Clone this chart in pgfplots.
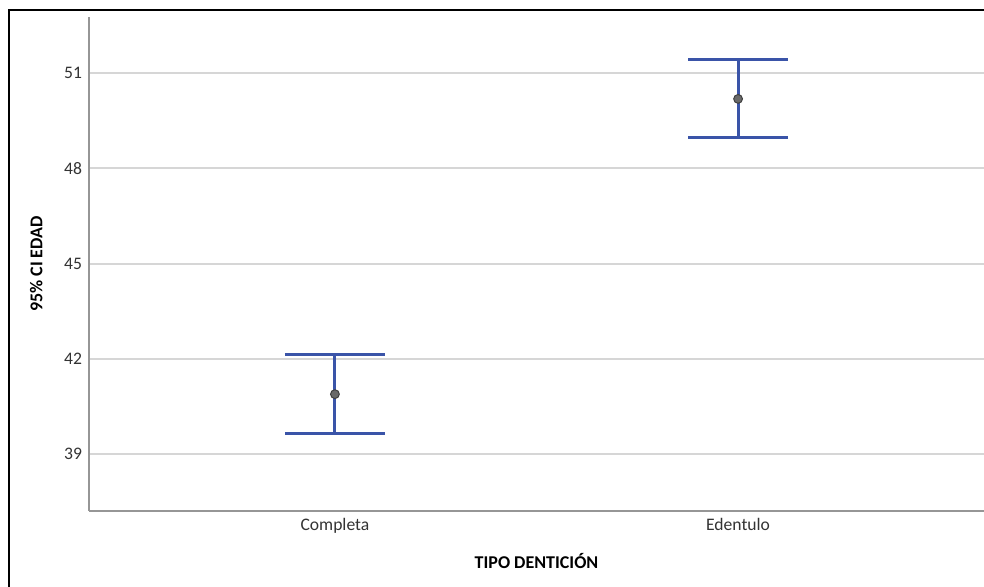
\documentclass[border=0pt]{standalone}
\usepackage{pgfplots}
\pgfplotsset{compat=1.18}
\usepackage{fontspec}
\setmainfont{Carlito}
\definecolor{barblue}{RGB}{58,84,168}
\definecolor{gridgray}{RGB}{214,214,214}
\definecolor{axisgray}{RGB}{150,150,150}
\definecolor{dotgray}{RGB}{105,105,105}
\pgfplotstableread{
x y ep em
0 40.89 1.24 1.23
1 50.19 1.23 1.21
}\cidata
\begin{document}
\begin{tikzpicture}[x=0.5pt,y=0.5pt]
\useasboundingbox (0,0) rectangle (984,587);
\draw[black, line width=1pt] (9,0) -- (9,577) -- (984,577);
\begin{axis}[
  at={(44.5pt,38pt)}, anchor=south west,
  scale only axis, width=447.5pt, height=247pt,
  xmin=-0.61, xmax=1.61, ymin=37.21, ymax=52.77,
  axis x line*=bottom, axis y line*=left,
  xtick={0,1}, xticklabels={Completa,Edentulo},
  ytick={39,42,45,48,51},
  ymajorgrids, grid style={gridgray, line width=1pt},
  major tick length=0pt,
  axis line style={axisgray, line width=1pt},
  tick label style={font=\fontsize{8.8}{10}\selectfont, color=black!80},
  /pgf/number format/assume math mode=true,
  xlabel={TIPO DENTICIÓN}, ylabel={95\% CI EDAD},
  label style={font=\bfseries\fontsize{9}{11}\selectfont},
  xlabel style={at={(axis description cs:0.5,-0.1174)}, anchor=base},
  ylabel style={at={(axis description cs:-0.052,0.5)}, anchor=base},
  clip=false,
]
\addplot[draw=none, mark=none, error bars/.cd, y dir=both, y explicit,
  error bar style={barblue, line width=1.5pt},
  error mark options={barblue, line width=1.5pt, mark size=25pt, rotate=90}]
  table[x=x, y=y, y error plus=ep, y error minus=em] {\cidata};
\addplot[only marks, mark=*, mark size=2.2pt,
  mark options={fill=dotgray, draw=black!75, line width=0.5pt}]
  table[x=x, y=y] {\cidata};
\end{axis}
\end{tikzpicture}
\end{document}
